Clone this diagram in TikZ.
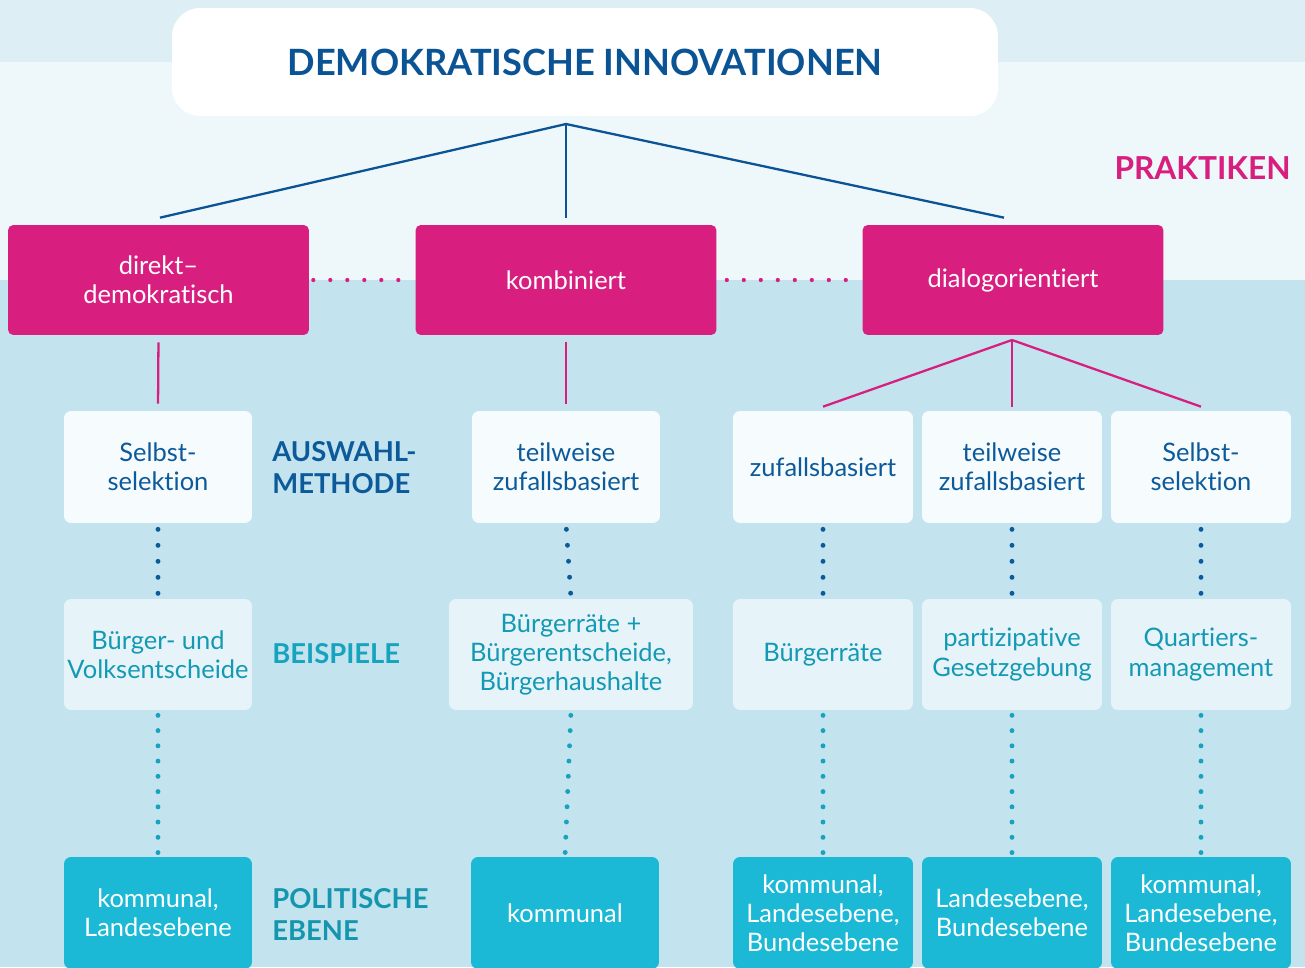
\documentclass[tikz,border=0pt]{standalone}
\usepackage{fontspec}
\setmainfont{Lato}[Ligatures={NoCommon}]
\usepackage{tikz}
\usetikzlibrary{backgrounds}
\pgfdeclarelayer{background}
\pgfsetlayers{background,main}
\usepackage{xcolor}
\definecolor{bandoben}{RGB}{221,239,245}
\definecolor{bandmitte}{RGB}{238,247,250}
\definecolor{bandunten}{RGB}{195,228,238}
\definecolor{titelblau}{RGB}{10,84,150}
\definecolor{praxismagenta}{RGB}{216,31,128}
\definecolor{auswahlweiss}{RGB}{246,251,253}
\definecolor{auswahlblau}{RGB}{13,90,154}
\definecolor{beispielhell}{RGB}{230,244,249}
\definecolor{beispieltuerkis}{RGB}{20,153,180}
\definecolor{ebenetuerkis}{RGB}{27,185,213}
\definecolor{ebenelabel}{RGB}{21,150,174}
\definecolor{beispiellabel}{RGB}{23,163,190}

\begin{document}
\begin{tikzpicture}[
  x=0.02cm, y=-0.02cm,
  every node/.style={font=\fontsize{14.5}{16.6}\selectfont, align=center},
  titel/.style={fill=white, rounded corners=0.56cm,
    minimum width=16.52cm, minimum height=2.16cm,
    text=titelblau, font=\fontsize{20.6}{23}\selectfont\bfseries},
  praxis/.style={fill=praxismagenta, text=white, rounded corners=3pt,
    minimum width=6.02cm, minimum height=2.2cm},
  auswahl/.style={fill=auswahlweiss, text=auswahlblau, rounded corners=4pt,
    minimum width=3.6cm, minimum height=2.24cm},
  beispiel/.style={fill=beispielhell, text=beispieltuerkis, rounded corners=4pt,
    inner xsep=1pt, minimum width=3.6cm, minimum height=2.22cm},
  ebene/.style={fill=ebenetuerkis, text=white, rounded corners=4pt,
    minimum width=3.6cm, minimum height=2.24cm},
  rubrik/.style={anchor=west, align=left, inner sep=0pt,
    font=\fontsize{15.6}{18.2}\selectfont\bfseries},
  ast/.style={line width=1.3pt},
  punkte/.style={line width=2.8pt, line cap=round, dash pattern=on 0pt off 0.32cm},
]
\useasboundingbox (0,0) rectangle (1305,967);
\clip (0,0) rectangle (1305,967);

\node[titel] at (585,62) (titel) {DEMOKRATISCHE INNOVATIONEN};
\node[rubrik, anchor=east, text=praxismagenta, font=\fontsize{18}{20}\selectfont\bfseries]
  at (1291,168) (praktiken) {PRAKTIKEN};

% Praktiken
\node[praxis] at (158.5,280) (direkt) {direkt--\\demokratisch};
\node[praxis] at (566,280)   (kombi)  {kombiniert};
\node[praxis] at (1013,280)  (dialog) {dialogorientiert};

% Auswahlmethode
\node[auswahl, minimum width=3.76cm] at (158,467) (selbstA) {Selbst-\\selektion};
\node[auswahl, minimum width=3.76cm] at (566,467) (teilB)   {teilweise\\zufallsbasiert};
\node[auswahl] at (823,467)  (zufallC) {zufallsbasiert};
\node[auswahl] at (1012,467) (teilD)   {teilweise\\zufallsbasiert};
\node[auswahl] at (1201,467) (selbstE) {Selbst-\\selektion};
\node[rubrik, text=auswahlblau] at (272,468) (lauswahl) {AUSWAHL-\\METHODE};

% Beispiele
\node[beispiel, minimum width=3.76cm] at (158,654.5) (bspA) {Bürger- und\\Volksentscheide};
\node[beispiel, minimum width=4.88cm] at (571,654.5) (bspB) {Bürgerräte +\\Bürgerentscheide,\\Bürgerhaushalte};
\node[beispiel] at (823,654.5)  (bspC) {Bürgerräte};
\node[beispiel] at (1012,654.5) (bspD) {partizipative\\Gesetzgebung};
\node[beispiel] at (1201,654.5) (bspE) {Quartiers-\\management};
\node[rubrik, text=beispiellabel] at (272,654) (lbeispiele) {BEISPIELE};

% Politische Ebene
\node[ebene, minimum width=3.76cm] at (158,913) (ebeneA) {kommunal,\\Landesebene};
\node[ebene, minimum width=3.76cm] at (565,913) (ebeneB) {kommunal};
\node[ebene] at (823,913)  (ebeneC) {kommunal,\\Landesebene,\\Bundesebene};
\node[ebene] at (1012,913) (ebeneD) {Landesebene,\\Bundesebene};
\node[ebene] at (1201,913) (ebeneE) {kommunal,\\Landesebene,\\Bundesebene};
\node[rubrik, text=ebenelabel] at (272,914) (lebene) {POLITISCHE\\EBENE};

\coordinate (spitze) at (566,124);
\coordinate (gabel)  at (1012,340);

\begin{pgfonlayer}{background}
\fill[bandoben]  (0,0)   rectangle (1305,62);
\fill[bandmitte] (0,62)  rectangle (1305,280);
\fill[bandunten] (0,280) rectangle (1305,967);

\draw[ast, titelblau] (spitze) -- ([xshift=0.03cm, yshift=0.14cm]direkt.north);
\draw[ast, titelblau] (spitze) -- ([yshift=0.14cm]kombi.north);
\draw[ast, titelblau] (spitze) -- ([xshift=-0.18cm, yshift=0.14cm]dialog.north);

\draw[punkte, praxismagenta, line width=2.4pt, dash pattern=on 0pt off 0.34cm,
  shorten <=0.08cm, shorten >=0.08cm] (direkt.east) -- (kombi.west);
\draw[punkte, praxismagenta, line width=2.4pt, dash pattern=on 0pt off 0.34cm,
  shorten <=0.2cm, shorten >=0.06cm] (kombi.east) -- (dialog.west);

\draw[ast, praxismagenta, shorten <=0.14cm, shorten >=0.14cm] (direkt.south) -- (selbstA.north);
\draw[ast, praxismagenta, shorten <=0.14cm, shorten >=0.14cm] (kombi.south) -- (teilB.north);
\draw[ast, praxismagenta] (gabel) -- ([yshift=0.08cm]zufallC.north);
\draw[ast, praxismagenta] (gabel) -- ([yshift=0.08cm]teilD.north);
\draw[ast, praxismagenta] (gabel) -- ([yshift=0.08cm]selbstE.north);

\foreach \a/\b in {selbstA/bspA, teilB/bspB, zufallC/bspC, teilD/bspD, selbstE/bspE}
  \draw[punkte, auswahlblau, shorten <=0.12cm, shorten >=0.1cm] (\a.south) -- (\b.north);
\foreach \a/\b in {bspA/ebeneA, bspB/ebeneB, bspC/ebeneC, bspD/ebeneD, bspE/ebeneE}
  \draw[punkte, beispiellabel, dash pattern=on 0pt off 0.305cm,
    shorten <=0.1cm, shorten >=0.08cm] (\a.south) -- (\b.north);
\end{pgfonlayer}
\end{tikzpicture}
\end{document}
